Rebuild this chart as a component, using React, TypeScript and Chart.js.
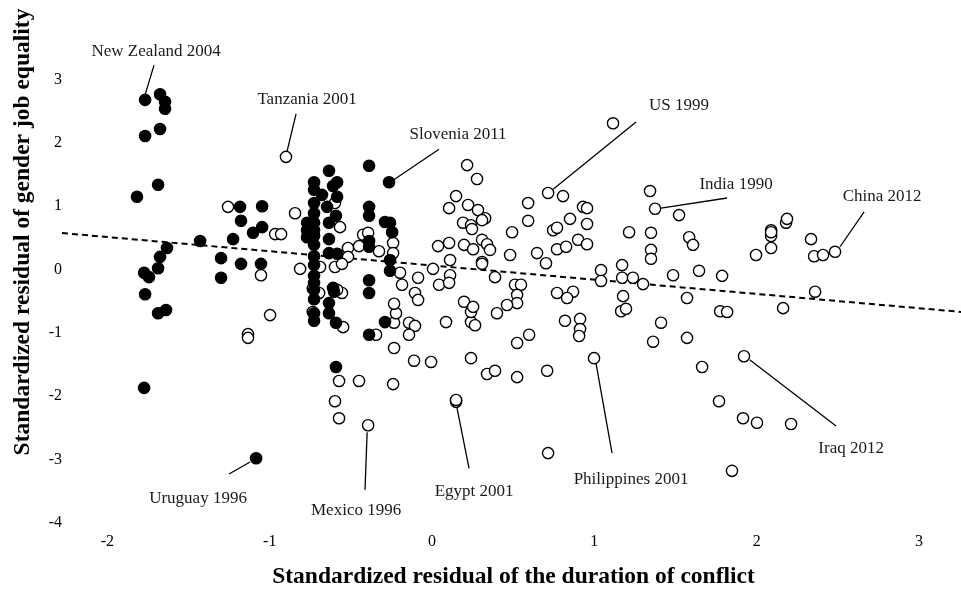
import { useEffect, useRef } from 'react';
import { Chart, registerables } from 'chart.js';

Chart.register(...registerables);

const FONT = '"Liberation Serif", "Times New Roman", Times, serif';

const xTitle = 'Standardized residual of the duration of conflict';
const yTitle = 'Standardized residual of gender job equality';

const xTickValues = [-2, -1, 0, 1, 2, 3];
const yTickValues = [-4, -3, -2, -1, 0, 1, 2, 3];
const xRange = [-2.28, 3.259];
const yRange = [-4.123, 4.218];

// filled markers
const blackX = [
  -1.768, -1.676, -1.645, -1.645, -1.768, -1.676, -1.688, -1.818, -1.633, -1.676, -1.688, -1.774, -1.744, -1.768, -1.639,
  -1.688, -1.429, -1.084, -1.774, -1.183, -1.047, -1.177, -1.047, -1.103, -1.226, -1.3, -1.177, -1.054, -1.3,
  -0.727, -0.727, -0.727, -0.727, -0.727, -0.727, -0.727, -0.727, -0.727, -0.727, -0.727, -0.727, -0.727, -0.727, -0.727, -0.727,
  -0.77, -0.77, -0.77,
  -0.635, -0.585, -0.61, -0.678, -0.585, -0.647, -0.592, -0.635, -0.635, -0.635, -0.585, -0.635, -0.635, -0.592, -0.61, -0.592, -0.604,
  -0.388, -0.388, -0.388, -0.388, -0.388, -0.388, -0.388, -0.388, -0.265, -0.29, -0.259, -0.246, -0.259, -0.259, -0.29,
];
const blackY = [
  2.64, 2.73, 2.61, 2.5, 2.07, 2.18, 1.3, 1.11, 0.3, 0.16, -0.02, -0.09, -0.16, -0.43, -0.68,
  -0.73, 0.41, -3.02, -1.91, 0.95, 0.96, 0.73, 0.63, 0.54, 0.44, 0.14, 0.05, 0.05, -0.17,
  1.34, 1.22, 1.01, 0.85, 0.7, 0.58, 0.49, 0.35, 0.17, 0.03, -0.14, -0.25, -0.36, -0.51, -0.73, -0.85,
  0.7, 0.58, 0.47,
  1.52, 1.34, 1.28, 1.14, 1.11, 0.95, 0.81, 0.7, 0.44, 0.22, 0.21, -0.57, -0.73, -0.88, -0.33, -1.58, -0.39,
  1.6, 0.95, 0.81, 0.41, 0.32, -0.21, -0.41, -1.07, 1.34, 0.71, 0.7, 0.55, 0.11, -0.06, -0.87,
];

// hollow markers
const openX = [
  -1.257, -0.9, -0.844, -0.967, -0.93, -1.054, -0.813, -0.998, -1.134, -1.134, -0.735, -0.735,
  -0.598, -0.567, -0.518, -0.518, -0.45, -0.425, -0.394, -0.327, -0.24, -0.24, -0.197, -0.185, -0.086, -0.105,
  -0.69, -0.598, -0.555, -0.696, -0.555, -0.585, -0.548, -0.345, -0.234, -0.234, -0.222, -0.234, -0.142, -0.105,
  -0.142, -0.111, -0.006, 0.086, 0.24, 0.24, 0.24, 0.197, 0.253, -0.573, -0.45, -0.24, -0.598, -0.573, -0.394,
  0.148, 0.148, -0.086,
  0.216, 0.277, 0.148, 0.105, 0.222, 0.283, 0.327, 0.308, 0.191, 0.24, 0.246, 0.037, 0.105, 0.197, 0.253, 0.308,
  0.339, 0.357, 0.111, 0.308, 0.308, 0.006, 0.043, 0.111, 0.105, 0.388, 0.481, 0.493, 0.592, 0.592, 0.647, 0.702,
  0.715, 0.746, 0.77, 0.77, 0.511, 0.548, 0.524, 0.524, 0.462, 0.4, 0.77, 0.265, 0.339, 0.388, 0.524, 0.709, 0.524, 0.598,
  1.115, 0.807, 0.85, 0.826, 0.9, 0.955, 0.93, 0.955, 0.955, 1.041, 1.041, 1.171, 1.171, 1.238, 1.3, 1.214, 1.349,
  1.349, 1.349, 1.343, 1.374, 1.522, 1.584, 1.608, 1.485, 1.645, 1.787, 1.571, 1.177, 0.869, 1.996, 2.089, 2.089,
  2.089, 2.089, 2.181, 2.187, 2.335, 2.354, 2.409, 2.483, 2.36,
  0.832, 1.165, 1.195, 1.775, 1.818, 2.163, 0.819, 0.912, 0.912, 0.906, 1.411, 1.362, 1.571, 0.998, 0.715, 1.664,
  1.922, 1.768, 1.916, 2.002, 2.212, 1.848,
];
const openY = [
  0.95, 1.74, 0.85, 0.52, 0.52, -0.13, -0.03, -0.76, -1.06, -1.12, -0.34, -0.71,
  1.01, 0.63, 0.3, 0.16, 0.33, 0.51, 0.54, 0.25, 0.38, 0.22, -0.09, -0.28, -0.17, -0.41,
  0.0, 0.0, 0.05, -0.41, -0.41, -0.36, -0.95, -1.07, -1.28, -0.88, -0.73, -0.58, -0.88, -0.93,
  -1.07, -1.48, -1.5, -0.87, -0.87, -1.44, -0.71, -0.55, -0.63, -1.8, -1.8, -1.85, -2.12, -2.39, -2.5,
  -2.13, -2.1, -0.52,
  1.61, 1.39, 1.12, 0.93, 0.98, 0.9, 0.77, 0.74, 0.7, 0.66, 0.6, 0.33, 0.38, 0.35, 0.28, 0.43,
  0.36, 0.27, 0.11, 0.08, 0.05, -0.03, -0.28, -0.13, -0.25, -0.16, 0.19, 0.55, 1.01, 0.73, 0.22, 0.06,
  1.17, 0.58, 0.62, 0.28, -0.28, -0.28, -0.44, -0.57, -0.6, -0.73, -0.41, -0.92, -1.69, -1.64, -1.74, -1.64, -1.2, -1.07,
  2.27, 1.12, 0.76, 0.32, 0.43, 0.68, 0.95, 0.93, 0.36, -0.05, -0.22, 0.03, -0.17, -0.17, -0.27, 0.55, 0.54,
  0.27, 0.13, 1.2, 0.92, 0.82, 0.47, 0.35, -0.13, -0.06, -0.14, -0.49, -0.46, -0.39, 0.19, 0.3, 0.49,
  0.58, 0.55, 0.7, 0.76, 0.44, 0.17, 0.19, 0.24, -0.39,
  -0.49, -0.7, -0.66, -0.7, -0.71, -0.65, -0.85, -0.82, -0.98, -1.09, -0.88, -1.18, -1.12, -1.44, -2.94, -1.58,
  -1.41, -2.12, -2.39, -2.46, -2.48, -3.22,
];

// fitted regression line (end points)
const trendX = [-2.28, 3.259];
const trendY = [0.537, -0.709];

// callouts
const labelNames = [
  'New Zealand 2004', 'Tanzania 2001', 'Slovenia 2011', 'US 1999', 'India 1990', 'China 2012',
  'Iraq 2012', 'Philippines 2001', 'Egypt 2001', 'Mexico 1996', 'Uruguay 1996',
];
const labelX = [-1.7, -0.77, 0.16, 1.522, 1.873, 2.773, 2.582, 1.226, 0.259, -0.468, -1.442];
const labelY = [3.40, 2.64, 2.10, 2.55, 1.30, 1.11, -2.87, -3.36, -3.55, -3.85, -3.66];
const leaderFromX = [-1.713, -0.838, 0.043, 1.257, 1.818, 2.662, 2.489, 1.109, 0.228, -0.413, -1.251];
const leaderFromY = [3.19, 2.42, 1.86, 2.29, 1.09, 0.87, -2.51, -2.94, -3.18, -3.52, -3.27];
const leaderToX = [-1.768, -0.893, -0.24, 0.746, 1.411, 2.514, 1.959, 1.01, 0.154, -0.4, -1.121];
const leaderToY = [2.72, 1.83, 1.37, 1.23, 0.93, 0.32, -1.47, -1.52, -2.23, -2.61, -3.08];

const annotationPlugin = {
  id: 'callouts',
  afterDatasetsDraw(chart: any) {
    const { ctx, scales, chartArea } = chart;
    const xs = scales.x;
    const ys = scales.y;
    ctx.save();
    ctx.strokeStyle = '#000';
    ctx.lineWidth = 1.3;
    for (let i = 0; i < labelNames.length; i++) {
      ctx.beginPath();
      ctx.moveTo(xs.getPixelForValue(leaderFromX[i]), ys.getPixelForValue(leaderFromY[i]));
      ctx.lineTo(xs.getPixelForValue(leaderToX[i]), ys.getPixelForValue(leaderToY[i]));
      ctx.stroke();
    }
    ctx.fillStyle = '#1a1a1a';
    ctx.font = `17px ${FONT}`;
    ctx.textAlign = 'center';
    ctx.textBaseline = 'middle';
    for (let i = 0; i < labelNames.length; i++) {
      ctx.fillText(labelNames[i], xs.getPixelForValue(labelX[i]), ys.getPixelForValue(labelY[i]));
    }
    ctx.fillStyle = '#000';
    ctx.font = `bold 23.5px ${FONT}`;
    ctx.fillText(xTitle, (chartArea.left + chartArea.right) / 2 + 2, 577);
    ctx.translate(23, 232);
    ctx.rotate(-Math.PI / 2);
    ctx.fillText(yTitle, 0, 0);
    ctx.restore();
  },
};

const zeroPadding = (s: any) => {
  s.paddingTop = 0;
  s.paddingBottom = 0;
  s.paddingLeft = 0;
  s.paddingRight = 0;
};

export default function App() {
  const ref = useRef<HTMLCanvasElement>(null);
  useEffect(() => {
    document.body.style.margin = '0';
    const canvas = ref.current;
    if (!canvas) return;
    const chart = new Chart(canvas, {
      type: 'scatter',
      data: {
        datasets: [
          {
            label: 'filled',
            data: blackX.map((v, i) => ({ x: v, y: blackY[i] })),
            pointRadius: 5.6,
            pointBackgroundColor: '#000',
            pointBorderColor: '#000',
            pointBorderWidth: 1.4,
            order: 1,
          },
          {
            label: 'hollow',
            data: openX.map((v, i) => ({ x: v, y: openY[i] })),
            pointRadius: 5.6,
            pointBackgroundColor: '#fff',
            pointBorderColor: '#000',
            pointBorderWidth: 1.4,
            order: 2,
          },
          {
            label: 'trend',
            data: trendX.map((v, i) => ({ x: v, y: trendY[i] })),
            showLine: true,
            borderColor: '#000',
            borderWidth: 2,
            borderDash: [6, 4],
            pointRadius: 0,
            fill: false,
            order: 3,
          },
        ],
      } as any,
      options: {
        responsive: false,
        animation: false,
        layout: { padding: 0, autoPadding: false },
        plugins: { legend: { display: false }, tooltip: { enabled: false } },
        scales: {
          x: {
            type: 'linear',
            min: xRange[0],
            max: xRange[1],
            grid: { display: false, drawTicks: false },
            border: { display: false },
            ticks: { font: { family: FONT, size: 16 }, color: '#000', padding: 4, maxRotation: 0 },
            afterBuildTicks: (s: any) => {
              s.ticks = xTickValues.map((v) => ({ value: v }));
            },
            afterFit: (s: any) => {
              s.height = 64;
              zeroPadding(s);
            },
          },
          y: {
            type: 'linear',
            min: yRange[0],
            max: yRange[1],
            grid: { display: false, drawTicks: false },
            border: { display: false },
            ticks: { font: { family: FONT, size: 16 }, color: '#000', padding: 0, labelOffset: 2.5 },
            afterBuildTicks: (s: any) => {
              s.ticks = yTickValues.map((v) => ({ value: v }));
            },
            afterFit: (s: any) => {
              s.width = 62;
              zeroPadding(s);
            },
          },
        },
      } as any,
      plugins: [annotationPlugin],
    });
    return () => chart.destroy();
  }, []);
  return <canvas ref={ref} width={961} height={592} style={{ display: 'block' }} />;
}
